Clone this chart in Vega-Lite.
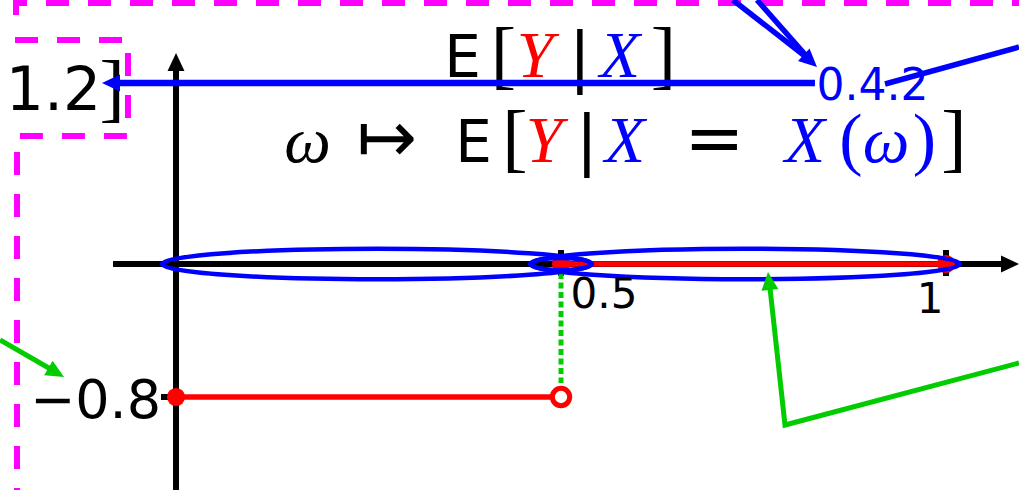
{
  "$schema": "https://vega.github.io/schema/vega-lite/v6.json",
  "width": 1019,
  "height": 490,
  "autosize": {"type": "none"},
  "padding": 0,
  "background": "#ffffff",
  "config": {"view": {"stroke": null}},
  "datasets": {
    "paths": [
      {"path": "m1", "seq": 1, "x": -0.2078, "y": 1.4978},
      {"path": "m1", "seq": 2, "x": -0.2078, "y": 1.570},
      {"path": "m1", "seq": 3, "x": 1.0948, "y": 1.570},
      {"path": "m2", "seq": 1, "x": -0.2091, "y": 1.3474},
      {"path": "m2", "seq": 2, "x": -0.0624, "y": 1.3474},
      {"path": "m2", "seq": 3, "x": -0.0624, "y": 0.770},
      {"path": "m2", "seq": 4, "x": -0.2065, "y": 0.770},
      {"path": "m2", "seq": 5, "x": -0.2065, "y": -1.3594},
      {"path": "ax", "seq": 1, "x": -0.0818, "y": 0},
      {"path": "ax", "seq": 2, "x": 1.078, "y": 0},
      {"path": "ay", "seq": 1, "x": 0, "y": -1.3594},
      {"path": "ay", "seq": 2, "x": 0, "y": 1.167},
      {"path": "t05", "seq": 1, "x": 0.5, "y": 0.0842},
      {"path": "t05", "seq": 2, "x": 0.5, "y": -0.0722},
      {"path": "t1", "seq": 1, "x": 1, "y": 0.0842},
      {"path": "t1", "seq": 2, "x": 1, "y": -0.0722},
      {"path": "t08", "seq": 1, "x": -0.0195, "y": -0.8},
      {"path": "t08", "seq": 2, "x": 0, "y": -0.8},
      {"path": "r1", "seq": 1, "x": 0, "y": -0.8},
      {"path": "r1", "seq": 2, "x": 0.5, "y": -0.8},
      {"path": "r2", "seq": 1, "x": 0.5, "y": 0},
      {"path": "r2", "seq": 2, "x": 1, "y": 0},
      {"path": "gd", "seq": 1, "x": 0.5, "y": -0.054},
      {"path": "gd", "seq": 2, "x": 0.5, "y": -0.716},
      {"path": "g1", "seq": 1, "x": -0.2286, "y": -0.457},
      {"path": "g1", "seq": 2, "x": -0.1585, "y": -0.6436},
      {"path": "g2", "seq": 1, "x": 1.0948, "y": -0.5955},
      {"path": "g2", "seq": 2, "x": 0.7909, "y": -0.9684},
      {"path": "g2", "seq": 3, "x": 0.7714, "y": -0.1443},
      {"path": "b1", "seq": 1, "x": 0.8298, "y": 1.0888},
      {"path": "b1", "seq": 2, "x": -0.0792, "y": 1.0888},
      {"path": "b2", "seq": 1, "x": 0.9208, "y": 1.0827},
      {"path": "b2", "seq": 2, "x": 1.0948, "y": 1.3053},
      {"path": "b3", "seq": 1, "x": 0.7233, "y": 1.588},
      {"path": "b3", "seq": 2, "x": 0.8233, "y": 1.2271},
      {"path": "b4", "seq": 1, "x": 0.7545, "y": 1.588},
      {"path": "b4", "seq": 2, "x": 0.8233, "y": 1.2271}
    ],
    "dots": [
      {"kind": "solid", "x": 0, "y": -0.8},
      {"kind": "solid", "x": 0.5, "y": 0},
      {"kind": "solid", "x": 1, "y": 0},
      {"kind": "hollow", "x": 0.5, "y": -0.8}
    ],
    "rings": [
      {"ring": "wide", "x": 0.261, "y": 0},
      {"ring": "wide", "x": 0.739, "y": 0},
      {"ring": "narrow", "x": 0.5, "y": 0}
    ],
    "heads": [
      {"group": "base", "x": 0, "y": 1.269, "heading": 0},
      {"group": "base", "x": 1.0948, "y": 0, "heading": 90},
      {"group": "X", "x": -0.0961, "y": 1.0888, "heading": 270},
      {"group": "X", "x": 0.8324, "y": 1.185, "heading": 133},
      {"group": "hint", "x": -0.1455, "y": -0.6797, "heading": 120},
      {"group": "hint", "x": 0.7688, "y": -0.0481, "heading": 354}
    ],
    "labels": [
      {"role": "sans58", "group": "base", "t": "E", "x": 0.3720, "y": 1.125},
      {"role": "delim", "group": "base", "t": "[", "x": 0.4253, "y": 1.107},
      {"role": "ital", "group": "Y", "t": "Y", "x": 0.4662, "y": 1.125},
      {"role": "bar", "group": "base", "t": "|", "x": 0.5246, "y": 1.113},
      {"role": "ital", "group": "X", "t": "X", "x": 0.5766, "y": 1.125},
      {"role": "delim", "group": "base", "t": "]", "x": 0.6331, "y": 1.107},
      {"role": "ital", "group": "base", "t": "ω", "x": 0.1708, "y": 0.614},
      {"role": "sym", "group": "base", "t": "↦", "x": 0.2740, "y": 0.614},
      {"role": "sans58", "group": "base", "t": "E", "x": 0.3863, "y": 0.614},
      {"role": "delim", "group": "base", "t": "[", "x": 0.4402, "y": 0.6075},
      {"role": "ital", "group": "Y", "t": "Y", "x": 0.4779, "y": 0.614},
      {"role": "bar", "group": "base", "t": "|", "x": 0.5337, "y": 0.614},
      {"role": "ital", "group": "X", "t": "X", "x": 0.5831, "y": 0.614},
      {"role": "sym", "group": "base", "t": "=", "x": 0.6993, "y": 0.614},
      {"role": "ital", "group": "X", "t": "X", "x": 0.8169, "y": 0.614},
      {"role": "paren", "group": "X", "t": "(", "x": 0.8766, "y": 0.614},
      {"role": "ital", "group": "X", "t": "ω", "x": 0.9220, "y": 0.614},
      {"role": "paren", "group": "X", "t": ")", "x": 0.9720, "y": 0.614},
      {"role": "delim", "group": "base", "t": "]", "x": 1.0104, "y": 0.6075},
      {"role": "sans60", "group": "base", "t": "1.2", "x": -0.1591, "y": 0.9263},
      {"role": "delim", "group": "base", "t": "]", "x": -0.0831, "y": 0.908},
      {"role": "sans44", "group": "X", "t": "0.4.2", "x": 0.9045, "y": 0.9865},
      {"role": "sans54", "group": "base", "t": "−0.8", "x": -0.1046, "y": -0.926},
      {"role": "sans42", "group": "base", "t": "0.5", "x": 0.5558, "y": -0.2646},
      {"role": "sans42", "group": "base", "t": "1", "x": 0.9792, "y": -0.2947}
    ]
  },
  "encoding": {
    "x": {"field": "x", "type": "quantitative", "scale": {"domain": [-0.2286, 1.0948], "nice": false, "zero": false}, "axis": null},
    "y": {"field": "y", "type": "quantitative", "scale": {"domain": [-1.3594, 1.588], "nice": false, "zero": false}, "axis": null}
  },
  "layer": [
    {
      "data": {"name": "paths"},
      "transform": [{"filter": {"field": "path", "oneOf": ["m1", "m2"]}}],
      "mark": {"type": "line", "stroke": "#ff00ff", "strokeWidth": 6, "strokeDash": [23, 19]},
      "encoding": {"detail": {"field": "path"}, "order": {"field": "seq"}}
    },
    {
      "data": {"name": "paths"},
      "transform": [{"filter": {"field": "path", "oneOf": ["ax", "ay", "t05", "t1", "t08"]}}],
      "mark": {"type": "line", "stroke": "#000000", "strokeWidth": 6},
      "encoding": {"detail": {"field": "path"}, "order": {"field": "seq"}}
    },
    {
      "data": {"name": "paths"},
      "transform": [{"filter": {"field": "path", "oneOf": ["r1", "r2"]}}],
      "mark": {"type": "line", "stroke": "#ff0000", "strokeWidth": 5.5},
      "encoding": {"detail": {"field": "path"}, "order": {"field": "seq"}}
    },
    {
      "data": {"name": "dots"},
      "transform": [{"filter": "datum.kind === 'solid'"}],
      "mark": {"type": "point", "shape": "circle", "filled": true, "size": 330, "color": "#ff0000", "opacity": 1}
    },
    {
      "data": {"name": "dots"},
      "transform": [{"filter": "datum.kind === 'hollow'"}],
      "mark": {"type": "point", "shape": "circle", "filled": true, "size": 300, "fill": "#ffffff", "stroke": "#ff0000", "strokeWidth": 5, "opacity": 1}
    },
    {
      "data": {"name": "paths"},
      "transform": [{"filter": {"field": "path", "equal": "gd"}}],
      "mark": {"type": "line", "stroke": "#00cc00", "strokeWidth": 5, "strokeDash": [6, 3.5]},
      "encoding": {"order": {"field": "seq"}}
    },
    {
      "data": {"name": "paths"},
      "transform": [{"filter": {"field": "path", "oneOf": ["g1", "g2"]}}],
      "mark": {"type": "line", "stroke": "#00cc00", "strokeWidth": 5, "strokeJoin": "miter"},
      "encoding": {"detail": {"field": "path"}, "order": {"field": "seq"}}
    },
    {
      "data": {"name": "rings"},
      "transform": [{"filter": "datum.ring === 'wide'"}],
      "mark": {"type": "point", "shape": "M-1,0A1,0.071,0,1,0,1,0A1,0.071,0,1,0,-1,0Z", "filled": false, "size": 184900, "color": "#0000ff", "strokeWidth": 4.5, "opacity": 1}
    },
    {
      "data": {"name": "rings"},
      "transform": [{"filter": "datum.ring === 'narrow'"}],
      "mark": {"type": "point", "shape": "M-1,0A1,0.2,0,1,0,1,0A1,0.2,0,1,0,-1,0Z", "filled": false, "size": 3721, "color": "#0000ff", "strokeWidth": 4.5, "opacity": 1}
    },
    {
      "data": {"name": "labels"},
      "transform": [{"filter": "datum.role === 'sans58'"}],
      "mark": {"type": "text", "font": "DejaVu Sans", "fontSize": 58, "align": "center", "baseline": "alphabetic"},
      "encoding": {"text": {"field": "t"}, "color": {"field": "group", "type": "nominal", "scale": {"domain": ["base", "Y", "X", "hint"], "range": ["#000000", "#ff0000", "#0000ff", "#00cc00"]}, "legend": null}}
    },
    {
      "data": {"name": "labels"},
      "transform": [{"filter": "datum.role === 'sans60'"}],
      "mark": {"type": "text", "font": "DejaVu Sans", "fontSize": 60, "align": "center", "baseline": "alphabetic"},
      "encoding": {"text": {"field": "t"}, "color": {"field": "group", "type": "nominal", "legend": null}}
    },
    {
      "data": {"name": "labels"},
      "transform": [{"filter": "datum.role === 'sans54'"}],
      "mark": {"type": "text", "font": "DejaVu Sans", "fontSize": 54, "align": "center", "baseline": "alphabetic"},
      "encoding": {"text": {"field": "t"}, "color": {"field": "group", "type": "nominal", "legend": null}}
    },
    {
      "data": {"name": "labels"},
      "transform": [{"filter": "datum.role === 'sans44'"}],
      "mark": {"type": "text", "font": "DejaVu Sans", "fontSize": 44, "align": "center", "baseline": "alphabetic"},
      "encoding": {"text": {"field": "t"}, "color": {"field": "group", "type": "nominal", "legend": null}}
    },
    {
      "data": {"name": "labels"},
      "transform": [{"filter": "datum.role === 'sans42'"}],
      "mark": {"type": "text", "font": "DejaVu Sans", "fontSize": 42, "align": "center", "baseline": "alphabetic"},
      "encoding": {"text": {"field": "t"}, "color": {"field": "group", "type": "nominal", "legend": null}}
    },
    {
      "data": {"name": "labels"},
      "transform": [{"filter": "datum.role === 'ital'"}],
      "mark": {"type": "text", "font": "Liberation Serif", "fontStyle": "italic", "fontSize": 66, "align": "center", "baseline": "alphabetic"},
      "encoding": {"text": {"field": "t"}, "color": {"field": "group", "type": "nominal", "legend": null}}
    },
    {
      "data": {"name": "labels"},
      "transform": [{"filter": "datum.role === 'delim'"}],
      "mark": {"type": "text", "font": "Liberation Serif", "fontSize": 76, "align": "center", "baseline": "alphabetic"},
      "encoding": {"text": {"field": "t"}, "color": {"field": "group", "type": "nominal", "legend": null}}
    },
    {
      "data": {"name": "labels"},
      "transform": [{"filter": "datum.role === 'paren'"}],
      "mark": {"type": "text", "font": "Liberation Serif", "fontSize": 70, "align": "center", "baseline": "alphabetic"},
      "encoding": {"text": {"field": "t"}, "color": {"field": "group", "type": "nominal", "legend": null}}
    },
    {
      "data": {"name": "labels"},
      "transform": [{"filter": "datum.role === 'bar'"}],
      "mark": {"type": "text", "font": "DejaVu Sans", "fontSize": 66, "align": "center", "baseline": "alphabetic"},
      "encoding": {"text": {"field": "t"}, "color": {"field": "group", "type": "nominal", "legend": null}}
    },
    {
      "data": {"name": "labels"},
      "transform": [{"filter": "datum.role === 'sym'"}],
      "mark": {"type": "text", "font": "DejaVu Sans", "fontSize": 72, "align": "center", "baseline": "alphabetic"},
      "encoding": {"text": {"field": "t"}, "color": {"field": "group", "type": "nominal", "legend": null}}
    },
    {
      "data": {"name": "paths"},
      "transform": [{"filter": {"field": "path", "equal": "b1"}}],
      "mark": {"type": "line", "stroke": "#0000ff", "strokeWidth": 6.5},
      "encoding": {"order": {"field": "seq"}}
    },
    {
      "data": {"name": "paths"},
      "transform": [{"filter": {"field": "path", "oneOf": ["b2", "b3", "b4"]}}],
      "mark": {"type": "line", "stroke": "#0000ff", "strokeWidth": 5.5},
      "encoding": {"detail": {"field": "path"}, "order": {"field": "seq"}}
    },
    {
      "data": {"name": "heads"},
      "mark": {"type": "point", "shape": "M0,0L0.47,1L-0.47,1Z", "filled": true, "size": 1296, "opacity": 1},
      "encoding": {
        "angle": {"field": "heading", "type": "quantitative", "scale": null},
        "color": {"field": "group", "type": "nominal", "legend": null}
      }
    }
  ]
}
